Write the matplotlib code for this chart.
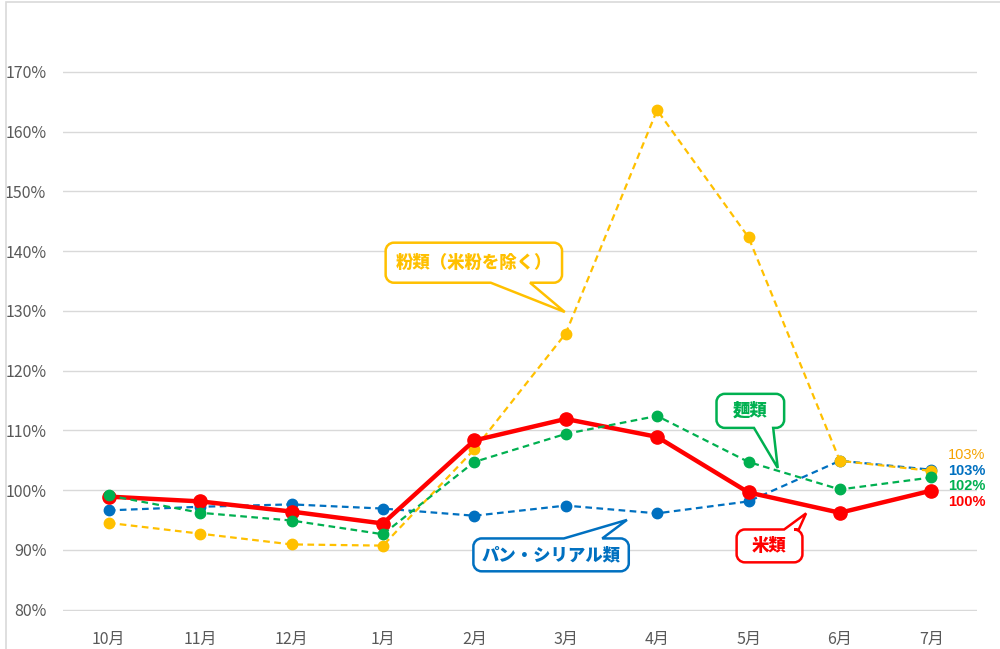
import matplotlib.pyplot as plt
from matplotlib.patches import PathPatch, Rectangle
from matplotlib.path import Path

plt.rcParams['font.family'] = ['Noto Sans CJK JP', 'DejaVu Sans']

months = ["10月", "11月", "12月", "1月", "2月", "3月", "4月", "5月", "6月", "7月"]

# 前年同月比（%）
rice = [98.9, 98.1, 96.4, 94.4, 108.3, 111.9, 108.9, 99.6, 96.2, 99.9]
noodles = [99.1, 96.2, 94.9, 92.6, 104.7, 109.4, 112.4, 104.7, 100.1, 102.1]
bread = [96.6, 97.2, 97.6, 96.9, 95.7, 97.4, 96.1, 98.1, 104.9, 103.4]
flour = [94.5, 92.7, 90.9, 90.7, 106.8, 126.2, 163.6, 142.3, 104.9, 103.2]

C_RICE = "#FF0000"
C_NOODLE = "#00B050"
C_BREAD = "#0070C0"
C_FLOUR = "#FFC000"

fig = plt.figure(figsize=(10, 6.49), dpi=100)
ax = fig.add_axes([0.063, 0.0585, 0.914, 0.9045])

# 外枠
fig.patches.append(Rectangle((0.006, -0.1), 1.2, 1.097, transform=fig.transFigure,
                             fill=False, ec="#D9D9D9", lw=1.2))

x = list(range(len(months)))
ax.plot(x, bread, color=C_BREAD, lw=1.6, ls=(0, (3, 2)), marker="o", ms=7.5, zorder=3)
ax.plot(x, flour, color=C_FLOUR, lw=1.6, ls=(0, (3, 2)), marker="o", ms=7.5, zorder=4)
ax.plot(x, rice, color=C_RICE, lw=3.2, marker="o", ms=9.5, zorder=5)
ax.plot(x, noodles, color=C_NOODLE, lw=1.6, ls=(0, (3, 2)), marker="o", ms=7.5, zorder=6)

ax.set_xlim(-0.5, len(months) - 0.5)
ax.set_ylim(79.75, 178)
ax.set_yticks(range(80, 171, 10))
ax.set_yticklabels([f"{v}%" for v in range(80, 171, 10)])
ax.set_xticks(x)
ax.set_xticklabels(months)
ax.tick_params(length=0, colors="#595959", labelsize=11.5, pad=12)
ax.tick_params(axis="x", pad=14)
for s in ax.spines.values():
    s.set_visible(False)
ax.grid(axis="y", color="#D9D9D9", lw=1)
ax.set_axisbelow(True)

# 最終月のデータラベル
last = len(months) - 1
labels = [(flour, "#F5A300", "normal", 105.8),
          (bread, C_BREAD, "bold", 103.2),
          (noodles, C_NOODLE, "bold", 100.6),
          (rice, C_RICE, "bold", 98.0)]
for series, col, wt, ly in labels:
    ax.annotate(f"{series[last]:.0f}%", xy=(last, ly), xytext=(12, 0),
                textcoords="offset points", color=col, fontweight=wt,
                fontsize=10.5, va="center", ha="left", annotation_clip=False,
                family=["Liberation Sans", "DejaVu Sans"])


def callout(text, color, x0, x1, y0, y1, t0, t1, tip, top=False):
    rx, ry = 0.09, 1.35
    k = 0.45
    verts, codes = [], []

    def move(p):
        verts.append(p); codes.append(Path.MOVETO)

    def line(p):
        verts.append(p); codes.append(Path.LINETO)

    def corner(c1, c2, p):
        verts.extend([c1, c2, p]); codes.extend([Path.CURVE4] * 3)

    move((x0 + rx, y1))
    if top:
        line((t0, y1)); line(tip); line((t1, y1))
    line((x1 - rx, y1))
    corner((x1 - rx * k, y1), (x1, y1 - ry * k), (x1, y1 - ry))
    line((x1, y0 + ry))
    corner((x1, y0 + ry * k), (x1 - rx * k, y0), (x1 - rx, y0))
    if not top:
        line((t1, y0)); line(tip); line((t0, y0))
    line((x0 + rx, y0))
    corner((x0 + rx * k, y0), (x0, y0 + ry * k), (x0, y0 + ry))
    line((x0, y1 - ry))
    corner((x0, y1 - ry * k), (x0 + rx * k, y1), (x0 + rx, y1))
    codes.append(Path.CLOSEPOLY); verts.append((x0 + rx, y1))
    ax.add_patch(PathPatch(Path(verts, codes), fc="white", ec=color, lw=1.8,
                           zorder=8, joinstyle="miter"))
    ax.text((x0 + x1) / 2, (y0 + y1) / 2, text, color=color, fontsize=12.5,
            fontweight="heavy", ha="center", va="center", zorder=9)


callout("粉類（米粉を除く）", C_FLOUR, 3.03, 4.96, 134.7, 141.4, 4.18, 4.61, (4.99, 129.8))
callout("パン・シリアル類", C_BREAD, 3.99, 5.69, 86.4, 91.9, 4.98, 5.40, (5.67, 95.0), top=True)
callout("麺類", C_NOODLE, 6.65, 7.39, 110.4, 116.1, 7.06, 7.27, (7.32, 103.7))
callout("米類", C_RICE, 6.87, 7.59, 87.9, 93.4, 7.39, 7.55, (7.63, 96.1), top=True)

fig.savefig("out.png", dpi=100)
